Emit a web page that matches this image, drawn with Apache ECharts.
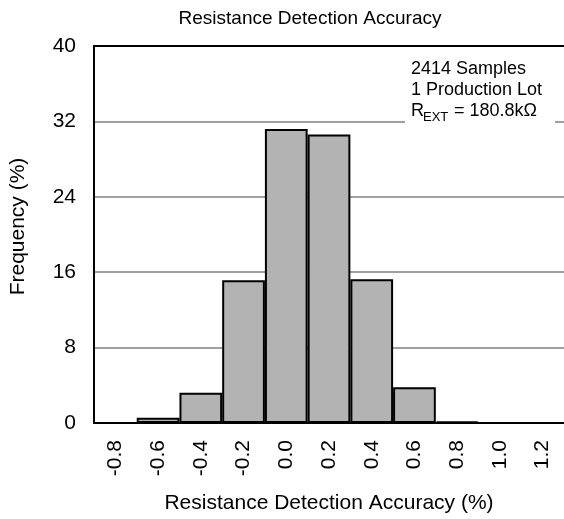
<!DOCTYPE html>
<html><head><meta charset="utf-8">
<script src="https://cdn.jsdelivr.net/npm/echarts@6/dist/echarts.min.js"></script>
<style>html,body{margin:0;padding:0;background:#fff}#c{width:564px;height:519px}</style>
</head><body><div id="c"></div>
<script>
const categories = ['-0.8','-0.6','-0.4','-0.2','0.0','0.2','0.4','0.6','0.8','1.0','1.2'];
const frequency = [0, 0.55, 3.2, 15.15, 31.2, 30.6, 15.25, 3.8, 0.15, 0, 0];
const yTicks = {min: 0, max: 40, interval: 8};
const titleText = 'Resistance Detection Accuracy';
const xName = 'Resistance Detection Accuracy (%)';
const yName = 'Frequency (%)';
const noteLines = ['2414 Samples', '1 Production Lot'];

const font = 'Arial, "Liberation Sans", sans-serif';
const chart = echarts.init(document.getElementById('c'));
chart.setOption({
  animation: false,
  backgroundColor: '#fff',
  title: {text: titleText, left: 305, top: 4, textAlign: 'center',
    textStyle: {fontFamily: font, fontSize: 19, fontWeight: 'normal', color: '#000'}},
  grid: {left: 93, top: 46, right: 0, bottom: 93},
  xAxis: [{
    type: 'category', data: categories, position: 'bottom',
    axisLine: {lineStyle: {color: '#000', width: 2}},
    axisTick: {show: false},
    axisLabel: {rotate: 90, margin: 17, fontFamily: font, fontSize: 21, color: '#000'},
    name: xName, nameLocation: 'middle', nameGap: 70,
    nameTextStyle: {fontFamily: font, fontSize: 21, color: '#000'}
  }, {
    type: 'category', data: categories, position: 'top',
    axisLine: {lineStyle: {color: '#000', width: 2}},
    axisTick: {show: false}, axisLabel: {show: false}
  }],
  yAxis: {
    type: 'value', min: yTicks.min, max: yTicks.max, interval: yTicks.interval,
    axisLine: {show: true, lineStyle: {color: '#000', width: 2}},
    axisTick: {show: false},
    splitLine: {lineStyle: {color: '#808080', width: 1.5}},
    axisLabel: {margin: 18, padding: [10, 0, 0, 0], fontFamily: font, fontSize: 21, color: '#000'},
    name: yName, nameLocation: 'middle', nameGap: 65, nameRotate: 90,
    nameTextStyle: {fontFamily: font, fontSize: 21, color: '#000', padding: [0, 0, 0, 16]}
  },
  series: [{
    type: 'bar', data: frequency, barCategoryGap: '0%',
    itemStyle: {color: '#b3b3b3', borderColor: '#000', borderWidth: 2},
    z: 3
  }],
  graphic: [
    {type: 'rect', shape: {x: 405, y: 100, width: 150, height: 28}, style: {fill: '#fff'}, z: 10},
    {type: 'text', left: 411, top: 60, z: 11, style: {text: noteLines[0], font: '18px ' + font, fill: '#000'}},
    {type: 'text', left: 411, top: 81, z: 11, style: {text: noteLines[1], font: '18px ' + font, fill: '#000'}},
    {type: 'text', left: 411, top: 102, z: 11, style: {text: 'R', font: '18px ' + font, fill: '#000'}},
    {type: 'text', left: 423, top: 111, z: 11, style: {text: 'EXT', font: '13px ' + font, fill: '#000'}},
    {type: 'text', left: 454, top: 102, z: 11, style: {text: '= 180.8kΩ', font: '18px ' + font, fill: '#000'}}
  ]
});
</script></body></html>
